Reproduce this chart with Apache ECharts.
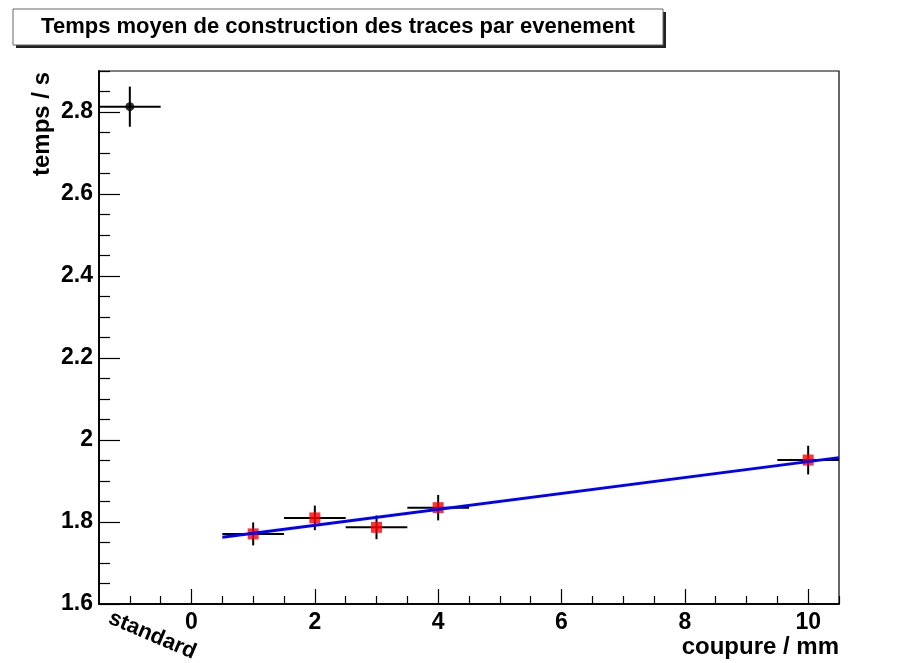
<!DOCTYPE html>
<html>
<head>
<meta charset="utf-8">
<script src="https://cdn.jsdelivr.net/npm/echarts@6/dist/echarts.min.js"></script>
<style>html,body{margin:0;padding:0;background:#fff}#c{width:916px;height:663px}</style>
</head>
<body>
<div id="c"></div>
<script>
// ---- data ----
const cutX = [1, 2, 3, 4, 10];
const cutY = [1.771, 1.810, 1.787, 1.835, 1.951];
const cutXErr = [0.5, 0.5, 0.5, 0.5, 0.5];
const cutYErr = [0.028, 0.030, 0.029, 0.031, 0.035];
const stdX = [-1];
const stdY = [2.813];
const stdXErr = [0.5];
const stdYErr = [0.049];
const fitX = [0.5, 10.5];
const fitY = [1.763, 1.957];
const xMajor = [0, 2, 4, 6, 8, 10];
const xMinor = [-1, -0.5, 0.5, 1, 1.5, 2.5, 3, 3.5, 4.5, 5, 5.5, 6.5, 7, 7.5, 8.5, 9, 9.5, 10.5];
const yMajor = [1.6, 1.8, 2.0, 2.2, 2.4, 2.6, 2.8];
const yMinor = [1.65, 1.7, 1.75, 1.85, 1.9, 1.95, 2.05, 2.1, 2.15, 2.25, 2.3, 2.35, 2.45, 2.5, 2.55, 2.65, 2.7, 2.75, 2.85, 2.9];
const stdLabel = 'standard';
const titleText = 'Temps moyen de construction des traces par evenement';
const xName = 'coupure / mm';
const yName = 'temps / s';

const FONT = '"Liberation Sans", Arial, Helvetica, sans-serif';
const X_MIN = -1.5, X_MAX = 10.5, Y_MIN = 1.6, Y_MAX = 2.9;

function errRows(xs, ys, exs, eys) {
  return xs.map((x, i) => [x, ys[i], exs[i], eys[i]]);
}

function errorRender(params, api) {
  const x = api.value(0), y = api.value(1), ex = api.value(2), ey = api.value(3);
  const l = api.coord([x - ex, y]), r = api.coord([x + ex, y]);
  const t = api.coord([x, y + ey]), b = api.coord([x, y - ey]);
  const st = { stroke: '#000', lineWidth: 2 };
  return {
    type: 'group',
    children: [
      { type: 'line', shape: { x1: l[0], y1: l[1], x2: r[0], y2: r[1] }, style: st },
      { type: 'line', shape: { x1: t[0], y1: t[1], x2: b[0], y2: b[1] }, style: st }
    ]
  };
}

const labelFont = { fontFamily: FONT, fontWeight: 'bold', fontSize: 23, color: '#000' };

function xAxisDef(ticks, len, showLabel) {
  return {
    type: 'value', min: X_MIN, max: X_MAX, position: 'bottom',
    axisLine: { show: true, onZero: false, lineStyle: { color: '#000', width: 1.5 } },
    splitLine: { show: false },
    axisTick: { show: true, inside: true, length: len, customValues: ticks, lineStyle: { color: '#000', width: 1.2 } },
    axisLabel: showLabel ? Object.assign({ show: true, customValues: ticks, margin: 7 }, labelFont) : { show: false }
  };
}
function yAxisDef(ticks, len, showLabel) {
  return {
    type: 'value', min: Y_MIN, max: Y_MAX, position: 'left',
    axisLine: { show: true, onZero: false, lineStyle: { color: '#000', width: 1.5 } },
    splitLine: { show: false },
    axisTick: { show: true, inside: true, length: len, customValues: ticks, lineStyle: { color: '#000', width: 1.2 } },
    axisLabel: showLabel ? Object.assign({ show: true, customValues: ticks, margin: 6, formatter: v => String(+v.toFixed(2)) }, labelFont) : { show: false }
  };
}

const chart = echarts.init(document.getElementById('c'), null, { renderer: 'canvas' });
chart.setOption({
  animation: false,
  backgroundColor: '#fff',
  grid: { left: 99, right: 77, top: 71, bottom: 59, show: true, borderColor: '#000', borderWidth: 1.2, containLabel: false },
  xAxis: [xAxisDef(xMajor, 15, true), xAxisDef(xMinor, 8, false)],
  yAxis: [yAxisDef(yMajor, 21, true), yAxisDef(yMinor, 11, false)],
  series: [
    { type: 'custom', renderItem: errorRender, data: errRows(stdX, stdY, stdXErr, stdYErr), z: 2, clip: true,
      encode: { x: 0, y: 1 } },
    { type: 'custom', renderItem: errorRender, data: errRows(cutX, cutY, cutXErr, cutYErr), z: 2, clip: true,
      encode: { x: 0, y: 1 } },
    { type: 'scatter', data: stdX.map((x, i) => [x, stdY[i]]), symbol: 'circle', symbolSize: 9,
      itemStyle: { color: '#000' }, z: 3 },
    { type: 'scatter', data: cutX.map((x, i) => [x, cutY[i]]), symbol: 'rect', symbolSize: 11,
      itemStyle: { color: '#ff0000' }, z: 3 },
    { type: 'line', data: fitX.map((x, i) => [x, fitY[i]]), showSymbol: false, symbol: 'none',
      lineStyle: { color: '#0000ff', width: 3 }, z: 4 }
  ]
});

const px = chart.convertToPixel({ xAxisIndex: 0 }, -1);
chart.setOption({
  graphic: [
    { type: 'rect', shape: { x: 16, y: 12, width: 650, height: 36 }, style: { fill: '#222' }, z: 10 },
    { type: 'rect', shape: { x: 13, y: 9, width: 650, height: 36 }, style: { fill: '#fff', stroke: '#666', lineWidth: 1 }, z: 11 },
    { type: 'text', x: 338, y: 27, z: 12,
      style: { text: titleText, fontFamily: FONT, fontWeight: 'bold', fontSize: 22, fill: '#000', align: 'center', verticalAlign: 'middle' } },
    { type: 'text', x: 42, y: 72, rotation: Math.PI / 2, z: 12,
      style: { text: yName, fontFamily: FONT, fontWeight: 'bold', fontSize: 24, fill: '#000', align: 'right', verticalAlign: 'middle' } },
    { type: 'text', x: 839, y: 647, z: 12,
      style: { text: xName, fontFamily: FONT, fontWeight: 'bold', fontSize: 24, fill: '#000', align: 'right', verticalAlign: 'middle' } },
    { type: 'text', x: px - 16, y: 607, rotation: -23 * Math.PI / 180, z: 12,
      style: { text: stdLabel, fontFamily: FONT, fontWeight: 'bold', fontSize: 22, fill: '#000', align: 'left', verticalAlign: 'top' } }
  ]
});
</script>
</body>
</html>
